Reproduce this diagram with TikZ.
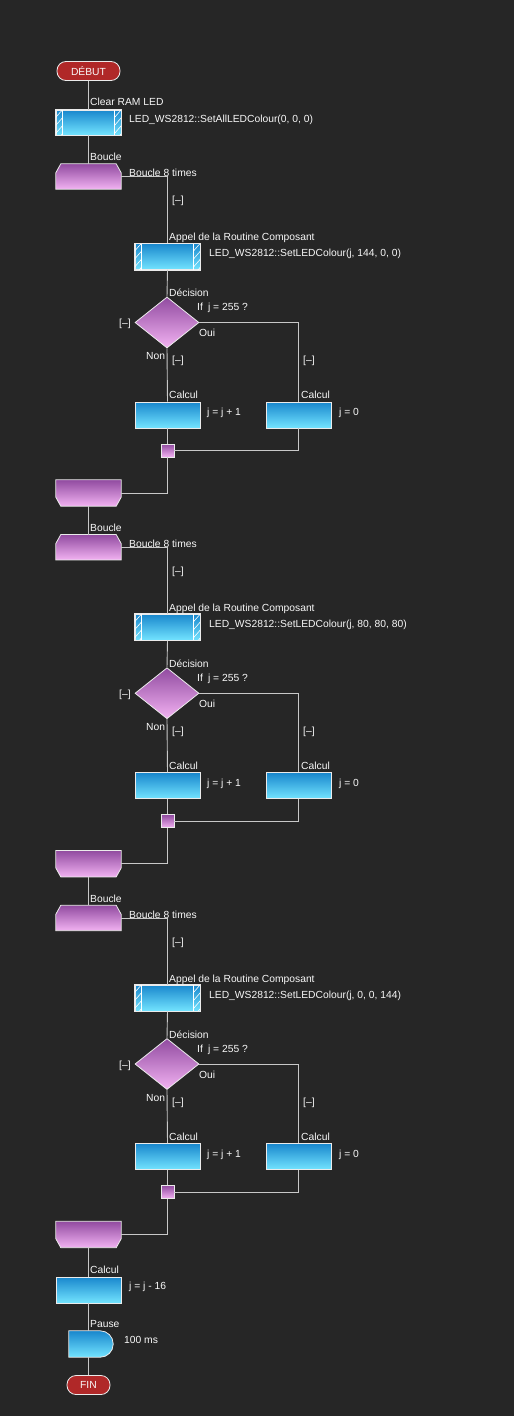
\documentclass[tikz,border=0pt]{standalone}
\usepackage{fontspec}
\setmainfont{Liberation Sans}
\usetikzlibrary{shapes.geometric,calc}
\definecolor{bg}{RGB}{38,38,38}
\definecolor{linec}{RGB}{200,200,200}
\definecolor{edgec}{RGB}{235,235,235}
\definecolor{bluetop}{RGB}{25,135,205}
\definecolor{bluebot}{RGB}{115,228,255}
\definecolor{purtop}{RGB}{145,75,160}
\definecolor{purbot}{RGB}{242,178,242}
\definecolor{pillred}{RGB}{176,40,40}
\definecolor{txt}{RGB}{248,248,248}
\tikzset{
  conn/.style={draw=linec, line width=0.9pt},
  blk/.style={rectangle, draw=edgec, line width=0.8pt, inner sep=0pt, minimum width=65pt, minimum height=26pt, top color=bluetop, bottom color=bluebot},
  ghost/.style={rectangle, draw=none, inner sep=0pt, minimum width=65pt, minimum height=26pt},
  purshade/.style={draw=edgec, line width=0.8pt, top color=purtop, bottom color=purbot},
  dec/.style={diamond, draw=edgec, line width=0.8pt, inner sep=0pt, minimum width=64pt, minimum height=51pt, top color=purtop, bottom color=purbot},
  junc/.style={rectangle, draw=edgec, line width=0.8pt, inner sep=0pt, minimum size=13pt, top color=purtop, bottom color=purbot},
  pill/.style={rectangle, rounded corners=9pt, draw=edgec, line width=0.8pt, fill=pillred, text=txt, inner sep=0pt, minimum height=19pt, font=\fontsize{10.3}{12}\selectfont},
  lbl/.style={anchor=base west, inner sep=0pt, text=txt, font=\fontsize{10.3}{12}\selectfont, yshift=-3.7pt},
  hatch/.style={draw=white, line width=0.6pt}
}
\begin{document}
\begin{tikzpicture}[x=1pt,y=-1pt]
\fill[bg] (0,0) rectangle (514,1416);
\useasboundingbox (0,0) rectangle (514,1416);

% start
\node[pill, minimum width=63pt] (debut) at (88.5,71) {DÉBUT};
\node[lbl] (lclr) at (90,102) {Clear RAM LED};
\node[blk, minimum height=25pt] (mc) at (88.5,122.5) {};
\begin{scope}
  \clip ($(mc.north west)$) rectangle ($(mc.south west)+(7,0)$);
  \foreach \d in {-8,0,8,16,24,32} \draw[hatch] ($(mc.north west)+(0,\d+8)$) -- ($(mc.north west)+(7,\d)$);
\end{scope}
\begin{scope}
  \clip ($(mc.north east)+(-7,0)$) rectangle ($(mc.south east)$);
  \foreach \d in {-8,0,8,16,24,32} \draw[hatch] ($(mc.north east)+(-7,\d+8)$) -- ($(mc.north east)+(0,\d)$);
\end{scope}
\draw[hatch] ($(mc.north west)+(7,0)$) -- ($(mc.south west)+(7,0)$);
\draw[hatch] ($(mc.north east)+(-7,0)$) -- ($(mc.south east)+(-7,0)$);
\draw[draw=edgec, line width=0.8pt] (mc.north west) rectangle (mc.south east);
\node[lbl] (lmc) at (129,119) {LED\_WS2812::SetAllLEDColour(0, 0, 0)};
\draw[conn] (debut.south) -- (mc.north);

\foreach \k/\args in {0/{144, 0, 0}, 1/{80, 80, 80}, 2/{0, 0, 144}} {
  \pgfmathsetmacro\o{370.75*\k}
  % loop top
  \node[ghost, minimum height=25pt] (lt\k) at (88.5,176.5+\o) {};
  \path[purshade] ($(lt\k.north west)+(5,0)$) -- ($(lt\k.north east)+(-5,0)$) -- ($(lt\k.north east)+(0,9)$) -- (lt\k.south east) -- (lt\k.south west) -- ($(lt\k.north west)+(0,9)$) -- cycle;
  \node[lbl] at (90,157+\o) {Boucle};
  \node[lbl] at (129,173+\o) {Boucle 8 times};
  \node[lbl] at (172,200+\o) {[–]};
  % call
  \node[blk] (cb\k) at (167.5,256.5+\o) {};
  \begin{scope}
    \clip ($(cb\k.north west)$) rectangle ($(cb\k.south west)+(7,0)$);
    \foreach \d in {-8,0,8,16,24,32} \draw[hatch] ($(cb\k.north west)+(0,\d+8)$) -- ($(cb\k.north west)+(7,\d)$);
  \end{scope}
  \begin{scope}
    \clip ($(cb\k.north east)+(-7,0)$) rectangle ($(cb\k.south east)$);
    \foreach \d in {-8,0,8,16,24,32} \draw[hatch] ($(cb\k.north east)+(-7,\d+8)$) -- ($(cb\k.north east)+(0,\d)$);
  \end{scope}
  \draw[hatch] ($(cb\k.north west)+(7,0)$) -- ($(cb\k.south west)+(7,0)$);
  \draw[hatch] ($(cb\k.north east)+(-7,0)$) -- ($(cb\k.south east)+(-7,0)$);
  \draw[draw=edgec, line width=0.8pt] (cb\k.north west) rectangle (cb\k.south east);
  \node[lbl] at (169,237+\o) {Appel de la Routine Composant};
  \node[lbl] at (209,253+\o) {LED\_WS2812::SetLEDColour(j, \args)};
  % decision
  \node[dec] (d\k) at (167,322.5+\o) {};
  \node[lbl] at (169,293+\o) {Décision};
  \node[lbl] at (197,307+\o) {If\enspace j = 255 ?};
  \node[lbl] at (119,323+\o) {[–]};
  \node[lbl] at (199,333+\o) {Oui};
  \node[lbl] at (146,356+\o) {Non};
  \node[lbl] at (172,360+\o) {[–]};
  \node[lbl] at (303,360+\o) {[–]};
  % calcs
  \node[blk] (ca\k) at (167.5,415+\o) {};
  \node[blk] (cc\k) at (298.5,415+\o) {};
  \node[lbl] at (169,395+\o) {Calcul};
  \node[lbl] at (301,395+\o) {Calcul};
  \node[lbl] at (207,412+\o) {j = j + 1};
  \node[lbl] at (339,412+\o) {j = 0};
  % junction
  \node[junc] (j\k) at (167.5,450.5+\o) {};
  % loop bottom
  \node[ghost] (lb\k) at (88.5,493+\o) {};
  \path[purshade] (lb\k.north west) -- (lb\k.north east) -- ($(lb\k.south east)+(0,-9)$) -- ($(lb\k.south east)+(-5,0)$) -- ($(lb\k.south west)+(5,0)$) -- ($(lb\k.south west)+(0,-9)$) -- cycle;
  % connectors
  \draw[conn] (lt\k.east) -| (cb\k.north);
  \draw[conn] (cb\k.south) -- (d\k.north);
  \draw[conn] (d\k.south) -- (ca\k.north);
  \draw[conn] (d\k.east) -| (cc\k.north);
  \draw[conn] (ca\k.south) -- (j\k.north);
  \draw[conn] (cc\k.south) |- (j\k.east);
  \draw[conn] (j\k.south) |- (lb\k.east);
}
\draw[conn] (mc.south) -- (lt0.north);
\draw[conn] (lb0.south) -- (lt1.north);
\draw[conn] (lb1.south) -- (lt2.north);

% end part
\node[blk] (calc) at (88.5,1290) {};
\node[lbl] at (90,1270) {Calcul};
\node[lbl] at (129,1286) {j = j - 16};
\node[ghost, minimum width=44pt] (pause) at (91,1344) {};
\shade[draw=edgec, line width=0.8pt, top color=bluetop, bottom color=bluebot]
  (pause.north west) [rounded corners=13pt] -- (pause.north east) -- (pause.south east) [sharp corners] -- (pause.south west) -- cycle;
\node[lbl] at (90,1324) {Pause};
\node[lbl] at (124,1340) {100 ms};
\node[pill, minimum width=43pt] (fin) at (88.5,1385) {FIN};
\draw[conn] (lb2.south) -- (calc.north);
\draw[conn] (calc.south) -- (calc.south |- pause.north);
\draw[conn] (calc.south |- pause.south) -- (fin.north);
\end{tikzpicture}
\end{document}
